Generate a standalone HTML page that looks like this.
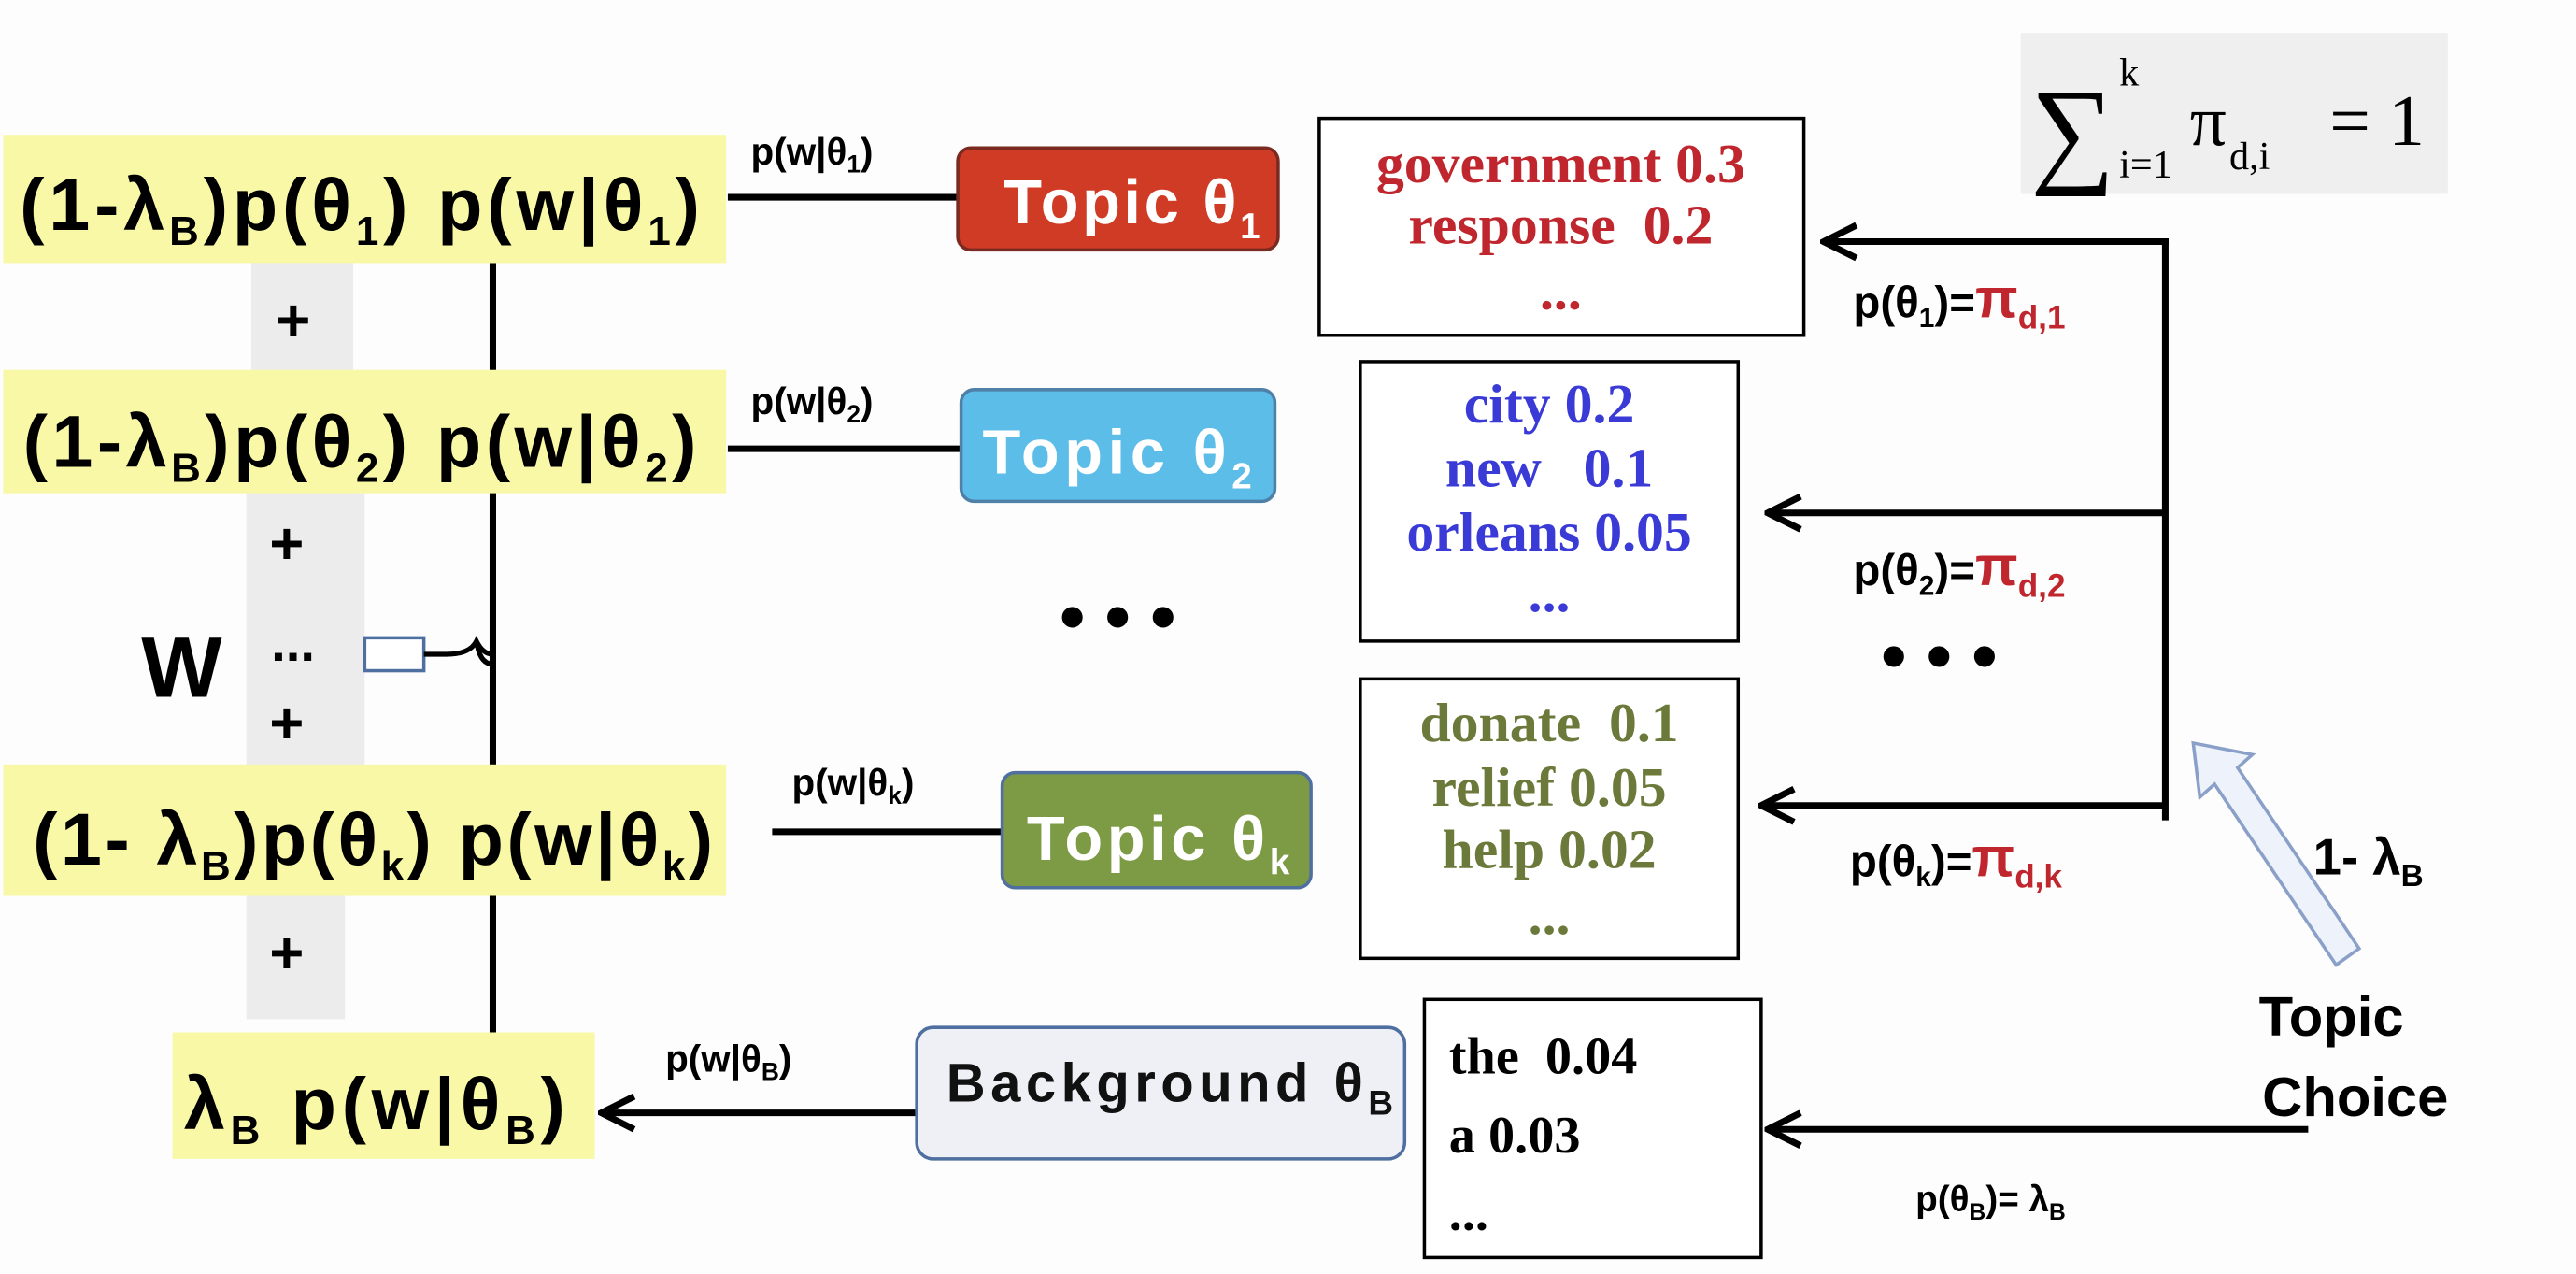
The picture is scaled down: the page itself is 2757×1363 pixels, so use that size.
<!DOCTYPE html>
<html><head><meta charset="utf-8"><style>
html,body{margin:0;padding:0;background:#fdfdfd;}
svg{display:block;}
.b{font-family:"Liberation Sans",sans-serif;font-weight:bold;}
.s{font-family:"Liberation Serif",serif;font-weight:bold;}
</style></head><body>
<svg width="2757" height="1363" viewBox="0 0 1568 775" preserveAspectRatio="none">
<defs>
<marker id="ah" markerWidth="24" markerHeight="24" refX="2" refY="12" orient="auto" markerUnits="userSpaceOnUse" viewBox="0 0 24 24"><path d="M22,2 L2,12 L22,22" fill="none" stroke="#000" stroke-width="4"/></marker>
</defs>
<rect width="1568" height="775" fill="#fdfdfd"/>
<line x1="300" y1="160" x2="300" y2="628" stroke="#000" stroke-width="4"/>
<rect x="153" y="150" width="62" height="82" fill="#ececec"/>
<rect x="150" y="295" width="72" height="185" fill="#ececec"/>
<rect x="150" y="535" width="60" height="85" fill="#ececec"/>
<rect x="2" y="82" width="440" height="78" fill="#f8f8a6"/>
<rect x="2" y="225" width="440" height="75" fill="#f8f8a6"/>
<rect x="2" y="465" width="440" height="80" fill="#f8f8a6"/>
<rect x="105" y="628" width="257" height="77" fill="#f8f8a6"/>
<g class="b" font-size="45" fill="#000">
<text x="12" y="140" textLength="414">(1-λ<tspan font-size="25" dy="9">B</tspan><tspan dy="-9">)p(θ</tspan><tspan font-size="25" dy="9">1</tspan><tspan dy="-9">) p(w|θ</tspan><tspan font-size="25" dy="9">1</tspan><tspan dy="-9">)</tspan></text>
<text x="14" y="284" textLength="410">(1-λ<tspan font-size="25" dy="9">B</tspan><tspan dy="-9">)p(θ</tspan><tspan font-size="25" dy="9">2</tspan><tspan dy="-9">) p(w|θ</tspan><tspan font-size="25" dy="9">2</tspan><tspan dy="-9">)</tspan></text>
<text x="20" y="526" textLength="414">(1- λ<tspan font-size="25" dy="9">B</tspan><tspan dy="-9">)p(θ</tspan><tspan font-size="25" dy="9">k</tspan><tspan dy="-9">) p(w|θ</tspan><tspan font-size="25" dy="9">k</tspan><tspan dy="-9">)</tspan></text>
<text x="112" y="687" textLength="232">λ<tspan font-size="25" dy="9">B</tspan><tspan dy="-9"> p(w|θ</tspan><tspan font-size="25" dy="9">B</tspan><tspan dy="-9">)</tspan></text>
<text x="168" y="207" font-size="36">+</text>
<text x="164" y="343" font-size="36">+</text>
<text x="165" y="402" font-size="32">...</text>
<text x="164" y="452" font-size="36">+</text>
<text x="164" y="592" font-size="36">+</text>
<text x="86" y="424" font-size="52">W</text>
</g>
<rect x="222" y="388" width="36" height="20" fill="#fff" stroke="#4f6fa0" stroke-width="2"/>
<path d="M258,398 L272,398 Q286,398 290,390 Q294,398 300,398 M290,390 Q292,404 300,404" fill="none" stroke="#000" stroke-width="3"/>
<g stroke="#000" stroke-width="4">
<line x1="443" y1="120" x2="585" y2="120"/>
<line x1="443" y1="273" x2="585" y2="273"/>
<line x1="470" y1="506" x2="610" y2="506"/>
<line x1="366" y1="677" x2="558" y2="677" marker-start="url(#ah)"/>
</g>
<g class="b" font-size="23">
<text x="457" y="100">p(w|θ<tspan font-size="15" dy="5">1</tspan><tspan dy="-5">)</tspan></text>
<text x="457" y="252">p(w|θ<tspan font-size="15" dy="5">2</tspan><tspan dy="-5">)</tspan></text>
<text x="482" y="484">p(w|θ<tspan font-size="15" dy="5">k</tspan><tspan dy="-5">)</tspan></text>
<text x="405" y="652">p(w|θ<tspan font-size="15" dy="5">B</tspan><tspan dy="-5">)</tspan></text>
</g>
<rect x="583" y="90" width="195" height="62" rx="8" fill="#d03b26" stroke="#7a2a20" stroke-width="2"/>
<text x="611" y="136" class="b" font-size="38" fill="#fff" textLength="156">Topic  θ<tspan font-size="22" dy="9">1</tspan></text>
<rect x="585" y="237" width="191" height="68" rx="8" fill="#5cbde8" stroke="#4f80a8" stroke-width="2"/>
<text x="598" y="288" class="b" font-size="38" fill="#fff" textLength="164">Topic θ<tspan font-size="22" dy="9">2</tspan></text>
<rect x="610" y="470" width="188" height="70" rx="8" fill="#7d9a44" stroke="#4f6fa0" stroke-width="2"/>
<text x="625" y="523" class="b" font-size="38" fill="#fff" textLength="160">Topic θ<tspan font-size="22" dy="9">k</tspan></text>
<rect x="558" y="625" width="297" height="80" rx="10" fill="#eef0f5" stroke="#4f6fa0" stroke-width="2"/>
<text x="576" y="670" class="b" font-size="33" fill="#111" textLength="272">Background θ<tspan font-size="21" dy="8">B</tspan></text>
<text x="645" y="390" class="b" font-size="44">• • •</text>
<text x="1145" y="414" class="b" font-size="44">• • •</text>
<g stroke="#000" stroke-width="2" fill="#fff">
<rect x="803" y="72" width="295" height="132"/>
<rect x="828" y="220" width="230" height="170"/>
<rect x="828" y="413" width="230" height="170"/>
<rect x="867" y="608" width="205" height="157"/>
</g>
<g class="s" font-size="34" text-anchor="middle">
<g fill="#c0262d"><text x="950" y="111">government 0.3</text><text x="950" y="148" xml:space="preserve">response  0.2</text><text x="950" y="188">...</text></g>
<g fill="#3a3ad6"><text x="943" y="257">city 0.2</text><text x="943" y="296" xml:space="preserve">new   0.1</text><text x="943" y="335">orleans 0.05</text><text x="943" y="372">...</text></g>
<g fill="#6b7a3a"><text x="943" y="451" xml:space="preserve">donate  0.1</text><text x="943" y="490">relief 0.05</text><text x="943" y="528">help 0.02</text><text x="943" y="568">...</text></g>
</g>
<g class="s" font-size="32"><text x="882" y="653" xml:space="preserve">the  0.04</text><text x="882" y="701">a 0.03</text><text x="882" y="748">...</text></g>
<g stroke="#000" stroke-width="4">
<line x1="1318" y1="145" x2="1318" y2="499"/>
<line x1="1110" y1="147" x2="1320" y2="147" marker-start="url(#ah)"/>
<line x1="1076" y1="312" x2="1318" y2="312" marker-start="url(#ah)"/>
<line x1="1072" y1="490" x2="1318" y2="490" marker-start="url(#ah)"/>
<line x1="1076" y1="687" x2="1405" y2="687" marker-start="url(#ah)"/>
</g>
<g class="b" font-size="27">
<text x="1128" y="193">p(θ<tspan font-size="17" dy="6">1</tspan><tspan dy="-6">)=</tspan><tspan fill="#c0262d" font-size="34">π</tspan><tspan fill="#c0262d" font-size="20" dy="7">d,1</tspan></text>
<text x="1128" y="356">p(θ<tspan font-size="17" dy="6">2</tspan><tspan dy="-6">)=</tspan><tspan fill="#c0262d" font-size="34">π</tspan><tspan fill="#c0262d" font-size="20" dy="7">d,2</tspan></text>
<text x="1126" y="533">p(θ<tspan font-size="17" dy="6">k</tspan><tspan dy="-6">)=</tspan><tspan fill="#c0262d" font-size="34">π</tspan><tspan fill="#c0262d" font-size="20" dy="7">d,k</tspan></text>
<text x="1166" y="737" font-size="22">p(θ<tspan font-size="14" dy="5">B</tspan><tspan dy="-5">)= λ</tspan><tspan font-size="14" dy="5">B</tspan></text>
<text x="1408" y="532" font-size="31">1- λ<tspan font-size="19" dy="7">B</tspan></text>
<text x="1375" y="630" font-size="34">Topic</text>
<text x="1377" y="679" font-size="34">Choice</text>
</g>
<path d="M1335,452 L1371,459 L1362,467 L1436,577 L1422,587 L1348,477 L1339,485 Z" fill="#eef2fa" stroke="#8aa0c8" stroke-width="2"/>
<rect x="1230" y="20" width="260" height="98" fill="#efefef"/>
<text x="1236" y="104" font-family="Liberation Serif,serif" font-size="72">∑</text>
<text x="1290" y="52" font-family="Liberation Serif,serif" font-size="24">k</text>
<text x="1290" y="108" font-family="Liberation Serif,serif" font-size="24">i=1</text>
<text x="1333" y="88" font-family="Liberation Serif,serif" font-size="44">π</text>
<text x="1357" y="103" font-family="Liberation Serif,serif" font-size="24">d,i</text>
<text x="1418" y="88" font-family="Liberation Serif,serif" font-size="44">= 1</text>
</svg>
</body></html>
